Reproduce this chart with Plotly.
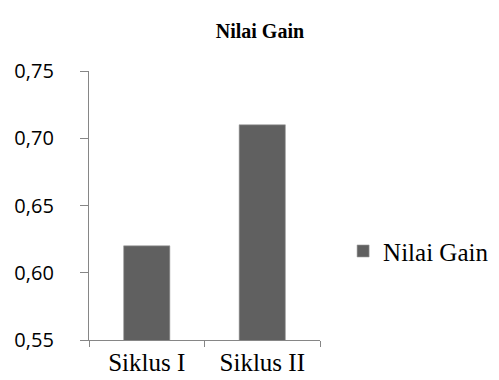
import plotly.graph_objects as go

categories = ["Siklus I", "Siklus II"]
values = [0.62, 0.71]
series_name = "Nilai Gain"
title_text = "Nilai Gain"

fig = go.Figure()
fig.add_trace(go.Bar(
    x=categories, y=values, name=series_name,
    marker=dict(color="#606060", line=dict(color="#9a9a9a", width=0.6)),
    showlegend=True,
))

fig.update_layout(
    width=499, height=380,
    margin=dict(l=81, r=187, t=63, b=48, autoexpand=False),
    paper_bgcolor="white", plot_bgcolor="white",
    separators=",.",
    bargap=0.6,
    title=dict(text="<b>" + title_text + "</b>", x=0.74, xref="paper", xanchor="center",
               y=0.94, yref="container", yanchor="middle",
               font=dict(family="Liberation Serif", size=20, color="black")),
    legend=dict(x=1.1, xanchor="left", y=0.33, yanchor="middle",
                font=dict(family="Liberation Serif", size=25, color="black"),
                itemwidth=30, bgcolor="rgba(0,0,0,0)"),
    showlegend=True,
)
fig.update_xaxes(
    automargin=False,
    showline=True, linecolor="#868686", linewidth=1.3,
    ticks="outside", ticklen=6, tickcolor="#868686", tickwidth=1.3,
    tickson="boundaries", showgrid=False,
    tickfont=dict(family="Liberation Serif", size=25, color="black"),
)
fig.update_yaxes(
    automargin=False,
    range=[0.55, 0.75], dtick=0.05, tick0=0.55, tickformat=".2f",
    showline=True, linecolor="#868686", linewidth=1.3,
    ticks="outside", ticklen=8, tickcolor="#868686", tickwidth=1.3,
    ticklabelstandoff=22,
    showgrid=False, zeroline=False,
    tickfont=dict(family="Open Sans", size=20, color="black"),
)

fig.write_html("out.html")
